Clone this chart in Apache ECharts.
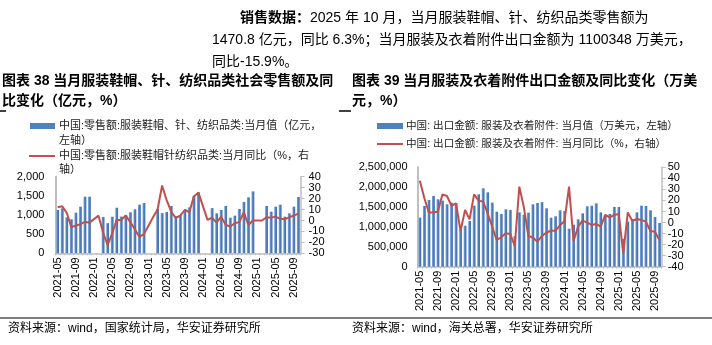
<!DOCTYPE html>
<html><head><meta charset="utf-8">
<script src="https://cdn.jsdelivr.net/npm/echarts@6/dist/echarts.min.js"></script>
<style>html,body{margin:0;padding:0;background:#fff}#c{width:712px;height:345px}</style>
</head><body><div id="c"></div>
<script>
// ---------- DATA ----------
const months = [
 '2021-05','2021-06','2021-07','2021-08','2021-09','2021-10','2021-11','2021-12',
 '2022-01','2022-02','2022-03','2022-04','2022-05','2022-06','2022-07','2022-08','2022-09','2022-10','2022-11','2022-12',
 '2023-01','2023-02','2023-03','2023-04','2023-05','2023-06','2023-07','2023-08','2023-09','2023-10','2023-11','2023-12',
 '2024-01','2024-02','2024-03','2024-04','2024-05','2024-06','2024-07','2024-08','2024-09','2024-10','2024-11','2024-12',
 '2025-01','2025-02','2025-03','2025-04','2025-05','2025-06','2025-07','2025-08','2025-09','2025-10'];

// 中国:零售额:服装鞋帽、针、纺织品类:当月值 (亿元)
const retailValue = [
 1130,1175,940,888,1060,1217,1478,1478,
 null,null,950,787,955,1190,960,1000,1070,1148,1270,1313,
 null,null,1157,1050,1078,1235,970,1000,1110,1200,1500,1590,
 null,null,1180,1043,1130,1235,930,983,1157,1339,1461,1617,
 null,null,1235,1087,1217,1270,957,1043,1217,1470.8];

// 中国:零售额:服装鞋帽针纺织品类:当月同比 (%)
const retailYoY = [
 12,13,7,-6,-4.8,-3.3,-1.2,-2,
 null,4.4,-11,-22.5,-12,0.5,0.5,4.5,-1.5,-8,-15,-12.5,
 null,3,10,32,18.5,8,2.3,4.5,9.8,7.5,22,25.5,
 null,0.5,2.5,-2,3.5,-4,-5.5,-2.5,-1.5,7.5,-4.2,0,
 null,0,3,2.6,3.5,1.5,1.2,2.8,4.5,6.3];

// 中国:出口金额:服装及衣着附件:当月值 (万美元)
const exportValue = [
 1235000,1527000,1678000,1779000,1695000,1661000,1569000,1611000,
 1600000,923000,1032000,1149000,1535000,1820000,1971000,1871000,1611000,1384000,1326000,1443000,
 1426000,770000,1367000,1309000,1359000,1569000,1602000,1625000,1468000,1233000,1267000,1418000,
 1401000,956000,1057000,1191000,1342000,1518000,1535000,1594000,1367000,1309000,1326000,1502000,
 1502000,700000,1133000,1191000,1367000,1535000,1527000,1418000,1250000,1100348];

// 中国:出口金额:服装及衣着附件:当月同比 (%)
const exportYoY = [
 37.9,22,9,9,10,25.5,24,15,
 17.4,-7.7,11.3,2.9,25.5,19.8,18.9,8.3,-3.8,-15.8,-13.4,-9.8,
 -10.4,-21.3,32.5,14,-12.2,-13.5,-17.4,-12.2,-9,-7.4,-7.4,-2.6,
 1.4,32.5,-16.7,-3.8,1.7,-0.1,-2.2,-1.3,-3.8,6.8,4.7,6.8,
 7.7,-27.9,9.2,1.4,3.2,2.3,0.8,-7.7,-8.3,-15.9];

const leftAxisRange  = {min: 0, max: 2000, step: 500};
const leftPctRange   = {min: -30, max: 40, step: 10};
const rightAxisRange = {min: 0, max: 2500000, step: 500000};
const rightPctRange  = {min: -40, max: 50, step: 10};
const xLabelEvery = 4;

// ---------- STYLE ----------
const LAT = '"Liberation Sans", Arial, "Noto Sans CJK SC", sans-serif';
const CJK = '"Liberation Sans", "Noto Sans CJK SC", sans-serif';
const BLUE = '#4F81BD', RED = '#C0504D', AXIS = '#BFBFBF';
const barColor = new echarts.graphic.LinearGradient(0,0,1,0,[
  {offset:0,color:'#86A9DA'},{offset:0.45,color:'#4F81BD'},{offset:1,color:'#3F6EAD'}]);
const fmt = v => Number(v).toLocaleString('en-US');

function xAxis(gi, margin){
  return {type:'category', gridIndex:gi, data:months, boundaryGap:true,
    axisLine:{show:true, lineStyle:{color:AXIS, width:1.5}},
    axisTick:{show:true, interval:0, length:2, lineStyle:{color:AXIS}},
    axisLabel:{interval:xLabelEvery-1, rotate:90, fontSize:11, fontFamily:LAT, color:'#000', margin:margin},
    splitLine:{show:false}};
}
function yAxis(gi, r, pos, opts){
  return Object.assign({type:'value', gridIndex:gi, position:pos, min:r.min, max:r.max, interval:r.step,
    splitLine:{show:false},
    axisLine:{show:true, lineStyle:{color:AXIS, width:2}},
    axisTick:{show:false},
    axisLabel:{fontSize:11, fontFamily:LAT, color:'#000', formatter:fmt}}, opts||{});
}

const chart = echarts.init(document.getElementById('c'), null, {renderer:'canvas'});

function txt(x, y, text, size, bold, extra){
  return {type:'text', x:x, y:y, z:100, style:Object.assign({text:text, fontSize:size, fontFamily:CJK,
    fontWeight:bold?'bold':'normal', fill:'#000', verticalAlign:'middle', align:'left'}, extra||{})};
}

const graphics = [
  {type:'text', x:240, y:18, z:100, style:{text:'{b|销售数据：}2025 年 10 月，当月服装鞋帽、针、纺织品类零售额为',
    rich:{b:{fontWeight:'bold', fontSize:14, fontFamily:CJK, fill:'#000'}},
    fontSize:14, fontFamily:CJK, fill:'#000', verticalAlign:'middle'}},
  txt(212, 40, '1470.8 亿元，同比 6.3%；当月服装及衣着附件出口金额为 1100348 万美元，', 14, false),
  txt(212, 62, '同比-15.9%。', 14, false),
  txt(2, 81, '图表 38 当月服装鞋帽、针、纺织品类社会零售额及同', 14, true),
  txt(2, 101, '比变化（亿元，%）', 14, true),
  txt(352, 81, '图表 39 当月服装及衣着附件出口金额及同比变化（万美', 14, true),
  txt(352, 101, '元，%）', 14, true),
  {type:'line', z:100, shape:{x1:0,y1:111,x2:6,y2:111}, style:{stroke:'#000', lineWidth:1.5}},
  {type:'line', z:100, shape:{x1:339,y1:111,x2:351,y2:111}, style:{stroke:'#000', lineWidth:1.5}},
  // left legend
  {type:'rect', z:100, shape:{x:30,y:123,width:25,height:6}, style:{fill:BLUE}},
  txt(59, 126, '中国:零售额:服装鞋帽、针、纺织品类:当月值（亿元，', 11, false, {fill:'#222'}),
  txt(59, 141, '左轴）', 11, false, {fill:'#222'}),
  {type:'line', z:100, shape:{x1:29,y1:156,x2:55,y2:156}, style:{stroke:RED, lineWidth:2}},
  txt(59, 156, '中国:零售额:服装鞋帽针纺织品类:当月同比（%，右', 11, false, {fill:'#222'}),
  txt(59, 170, '轴）', 11, false, {fill:'#222'}),
  // right legend
  {type:'rect', z:100, shape:{x:377,y:123,width:26,height:6}, style:{fill:BLUE}},
  txt(406, 126, '中国: 出口金额: 服装及衣着附件: 当月值（万美元，左轴）', 10.6, false, {fill:'#222'}),
  {type:'line', z:100, shape:{x1:377,y1:144,x2:403,y2:144}, style:{stroke:RED, lineWidth:2}},
  txt(406, 144, '中国: 出口金额: 服装及衣着附件: 当月同比（%，右轴）', 10.6, false, {fill:'#222'}),
  // bottom rule + sources
  {type:'line', z:100, shape:{x1:0,y1:318,x2:712,y2:318}, style:{stroke:'#000', lineWidth:1.2}},
  txt(8, 329, '资料来源：wind，国家统计局，华安证券研究所', 12, false),
  txt(352, 329, '资料来源：wind，海关总署，华安证券研究所', 12, false)
];

chart.setOption({
  animation:false,
  backgroundColor:'#fff',
  grid:[
    {left:55.4, right:712-300.6, top:176.7, bottom:345-253.3, containLabel:false},
    {left:417.6, right:712-661.7, top:167.3, bottom:345-266.7, containLabel:false}
  ],
  xAxis:[xAxis(0,4), xAxis(1,4)],
  yAxis:[
    yAxis(0, leftAxisRange, 'left', {axisLabel:{fontSize:11, fontFamily:LAT, color:'#000', formatter:fmt, margin:11}}),
    yAxis(0, leftPctRange, 'right', {axisLine:{show:true, lineStyle:{color:AXIS, width:1.5}},
      axisTick:{show:true, length:4, lineStyle:{color:AXIS}},
      axisLabel:{fontSize:11, fontFamily:LAT, color:'#000', margin:8}}),
    yAxis(1, rightAxisRange, 'left', {axisLabel:{fontSize:11, fontFamily:LAT, color:'#000', formatter:fmt, margin:10}}),
    yAxis(1, rightPctRange, 'right', {axisLine:{show:true, lineStyle:{color:AXIS, width:1.5}},
      axisTick:{show:true, length:4, lineStyle:{color:AXIS}},
      axisLabel:{fontSize:11, fontFamily:LAT, color:'#000', margin:6}})
  ],
  series:[
    {type:'bar', name:'零售额当月值', xAxisIndex:0, yAxisIndex:0, data:retailValue, barWidth:'62%',
      itemStyle:{color:barColor}, z:2},
    {type:'line', name:'零售额当月同比', xAxisIndex:0, yAxisIndex:1, data:retailYoY, connectNulls:true,
      symbol:'none', lineStyle:{color:RED, width:2}, itemStyle:{color:RED}, z:5},
    {type:'bar', name:'出口金额当月值', xAxisIndex:1, yAxisIndex:2, data:exportValue, barWidth:'62%',
      itemStyle:{color:barColor}, z:2},
    {type:'line', name:'出口金额当月同比', xAxisIndex:1, yAxisIndex:3, data:exportYoY, connectNulls:true,
      symbol:'none', lineStyle:{color:RED, width:2}, itemStyle:{color:RED}, z:5}
  ],
  graphic:graphics
});
</script></body></html>
